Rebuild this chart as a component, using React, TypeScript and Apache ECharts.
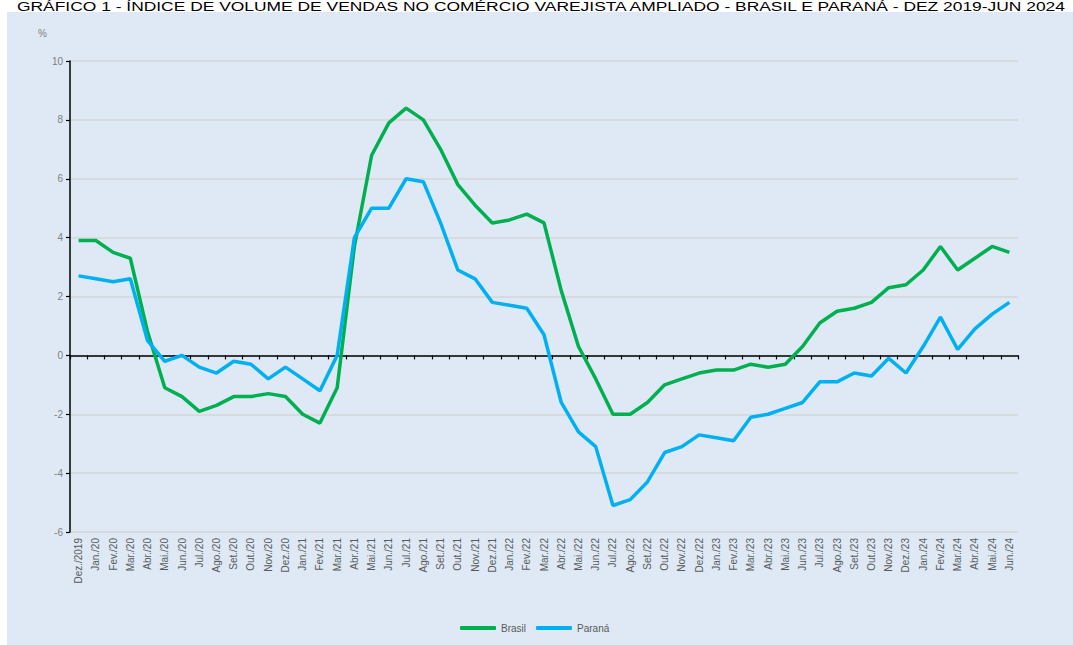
import React, { useEffect, useRef } from "react";
import * as echarts from "echarts";

const categories = [
  "Dez./2019", "Jan./20", "Fev./20", "Mar./20", "Abr./20", "Mai./20", "Jun./20", "Jul./20", "Ago./20", "Set./20", "Out./20", "Nov./20", "Dez./20",
  "Jan./21", "Fev./21", "Mar./21", "Abr./21", "Mai./21", "Jun./21", "Jul./21", "Ago./21", "Set./21", "Out./21", "Nov./21", "Dez./21",
  "Jan./22", "Fev./22", "Mar./22", "Abr./22", "Mai./22", "Jun./22", "Jul./22", "Ago./22", "Set./22", "Out./22", "Nov./22", "Dez./22",
  "Jan./23", "Fev./23", "Mar./23", "Abr./23", "Mai./23", "Jun./23", "Jul./23", "Ago./23", "Set./23", "Out./23", "Nov./23", "Dez./23",
  "Jan./24", "Fev./24", "Mar./24", "Abr./24", "Mai./24", "Jun./24",
];

const brasil = [
  3.9, 3.9, 3.5, 3.3, 0.8, -1.1, -1.4, -1.9, -1.7, -1.4, -1.4, -1.3, -1.4,
  -2.0, -2.3, -1.1, 3.7, 6.8, 7.9, 8.4, 8.0, 7.0, 5.8, 5.1, 4.5,
  4.6, 4.8, 4.5, 2.2, 0.3, -0.8, -2.0, -2.0, -1.6, -1.0, -0.8, -0.6,
  -0.5, -0.5, -0.3, -0.4, -0.3, 0.3, 1.1, 1.5, 1.6, 1.8, 2.3, 2.4,
  2.9, 3.7, 2.9, 3.3, 3.7, 3.5,
];

const parana = [
  2.7, 2.6, 2.5, 2.6, 0.5, -0.2, 0.0, -0.4, -0.6, -0.2, -0.3, -0.8, -0.4,
  -0.8, -1.2, 0.0, 4.0, 5.0, 5.0, 6.0, 5.9, 4.5, 2.9, 2.6, 1.8,
  1.7, 1.6, 0.7, -1.6, -2.6, -3.1, -5.1, -4.9, -4.3, -3.3, -3.1, -2.7,
  -2.8, -2.9, -2.1, -2.0, -1.8, -1.6, -0.9, -0.9, -0.6, -0.7, -0.1, -0.6,
  0.3, 1.3, 0.2, 0.9, 1.4, 1.8,
];

const titleText =
  "GRÁFICO 1 - ÍNDICE DE VOLUME DE VENDAS NO COMÉRCIO VAREJISTA AMPLIADO - BRASIL E PARANÁ - DEZ 2019-JUN 2024";

export default function App() {
  const ref = useRef<HTMLDivElement>(null);
  useEffect(() => {
    if (!ref.current) return;
    const chart = echarts.init(ref.current, undefined, { renderer: "svg" });
    const font = "'Liberation Sans', Arial, sans-serif";
    chart.setOption({
      animation: false,
      backgroundColor: "#ffffff",
      textStyle: { fontFamily: font },
      graphic: [
        {
          type: "rect",
          z: -10,
          shape: { x: 7, y: 12, width: 1066, height: 633 },
          style: { fill: "#dee9f5" },
          silent: true,
        },
        {
          type: "text",
          x: 17,
          y: 0,
          scaleX: 1.34,
          style: { text: titleText, fontSize: 13, fill: "#000000", fontFamily: font },
        },
        {
          type: "text",
          x: 38,
          y: 28,
          style: { text: "%", fontSize: 10, fill: "#7f7f7f", fontFamily: font },
        },
      ],
      legend: {
        bottom: 7,
        left: 455,
        icon: "roundRect",
        itemWidth: 36,
        itemHeight: 4,
        itemGap: 10,
        textStyle: { fontSize: 10, color: "#595959", fontFamily: font },
        data: ["Brasil", "Paraná"],
      },
      grid: { left: 70, right: 55, top: 61, bottom: 113, containLabel: false },
      xAxis: [
        {
          type: "category",
          data: categories,
          position: "bottom",
          boundaryGap: true,
          axisLine: { show: false, onZero: false },
          axisTick: { show: false },
          axisLabel: { rotate: 90, fontSize: 10, color: "#595959", margin: 6, interval: 0, fontFamily: font },
          splitLine: { show: false },
        },
        {
          type: "category",
          data: categories,
          position: "bottom",
          boundaryGap: true,
          axisLine: { show: true, onZero: true, lineStyle: { color: "#000000", width: 1.5 } },
          axisTick: { show: true, interval: 0, length: 4, lineStyle: { color: "#000000", width: 1.2 } },
          axisLabel: { show: false },
          splitLine: { show: false },
        },
      ],
      yAxis: {
        type: "value",
        min: -6,
        max: 10,
        interval: 2,
        axisLine: { show: true, onZero: false, lineStyle: { color: "#000000", width: 1.5 } },
        axisTick: { show: true, length: 4, lineStyle: { color: "#000000", width: 1.2 } },
        axisLabel: { fontSize: 10, color: "#7f7f7f", margin: 7, fontFamily: font },
        splitLine: { show: true, lineStyle: { color: "#d6d6d6", width: 1.5 } },
      },
      series: [
        {
          name: "Brasil",
          type: "line",
          data: brasil,
          xAxisIndex: 0,
          symbol: "none",
          color: "#00b050",
          lineStyle: { width: 3.5, color: "#00b050" },
          z: 3,
        },
        {
          name: "Paraná",
          type: "line",
          data: parana,
          xAxisIndex: 0,
          symbol: "none",
          color: "#00b0f0",
          lineStyle: { width: 3.5, color: "#00b0f0" },
          z: 4,
        },
      ],
    });
    return () => chart.dispose();
  }, []);
  return (
    <div
      ref={ref}
      style={{ position: "absolute", left: 0, top: 0, width: 1073, height: 645 }}
    />
  );
}
